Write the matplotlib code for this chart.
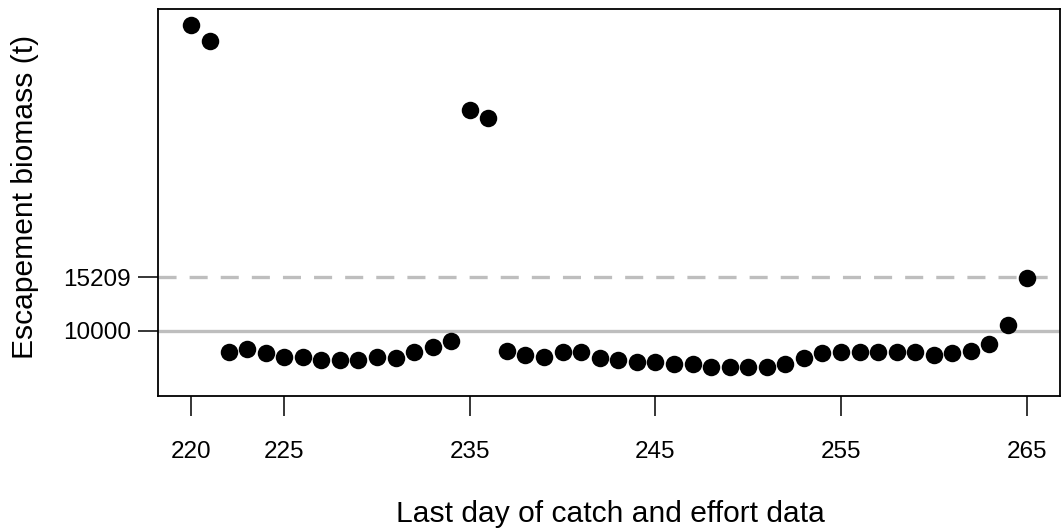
import matplotlib
matplotlib.use('Agg')
import matplotlib.pyplot as plt

# Schaetzung der Escapement-Biomasse je nach letztem Tag mit Fang-/Aufwandsdaten
days = list(range(220, 266))
escapement = [
    39760, 38260, 7890, 8210, 7850, 7460, 7460, 7140, 7110, 7140,
    7460, 7300, 7890, 8430, 9020, 31540, 30760, 8050, 7630, 7460,
    7890, 7890, 7300, 7140, 6910, 6910, 6720, 6720, 6490, 6490,
    6490, 6490, 6720, 7300, 7850, 7890, 7890, 7890, 7890, 7890,
    7630, 7850, 8050, 8670, 10550, 15160,
]

goal = 10000
goal_upper = 15209
x_ticks = [220, 225, 235, 245, 255, 265]
y_ticks = [goal, goal_upper]

LINE_GREY = '#bebebe'
W, H = 1062, 529

plt.rcParams['font.family'] = ['Liberation Sans', 'DejaVu Sans']

fig = plt.figure(figsize=(W / 100, H / 100), dpi=100)
ax = fig.add_axes([158 / W, 1 - 396.3 / H, (1060 - 158) / W, (396.3 - 8.5) / H])

ax.axhline(goal, color=LINE_GREY, linewidth=2.4, zorder=1)
ax.axhline(goal_upper, color=LINE_GREY, linewidth=2.4, zorder=1,
           linestyle=(0, (13 / 2.4, 9.4 / 2.4)))
ax.plot(days, escapement, linestyle='none', marker='o', markersize=12.6,
        markeredgewidth=0, color='black', zorder=3)

# Achsenbereich wie in R: Datenbereich +4 % auf jeder Seite
ax.set_xlim(218.2, 266.8)
ax.set_ylim(3600, 41400)

ax.set_xticks(x_ticks)
ax.set_yticks(y_ticks)
ax.tick_params(axis='both', direction='out', length=14.4, width=1.1,
               labelsize=17.5, color='black')
ax.tick_params(axis='x', pad=18)
ax.tick_params(axis='y', pad=5)
for side in ax.spines.values():
    side.set_linewidth(1.3)
    side.set_color('black')

fig.text(610 / W, 1 - 521.7 / H, 'Last day of catch and effort data',
         ha='center', va='baseline', fontsize=21.6)
fig.text(33 / W, 1 - 197 / H, 'Escapement biomass (t)', rotation=90,
         rotation_mode='anchor', ha='center', va='baseline', fontsize=21.6)

fig.savefig('out.png', dpi=100)
plt.close(fig)
